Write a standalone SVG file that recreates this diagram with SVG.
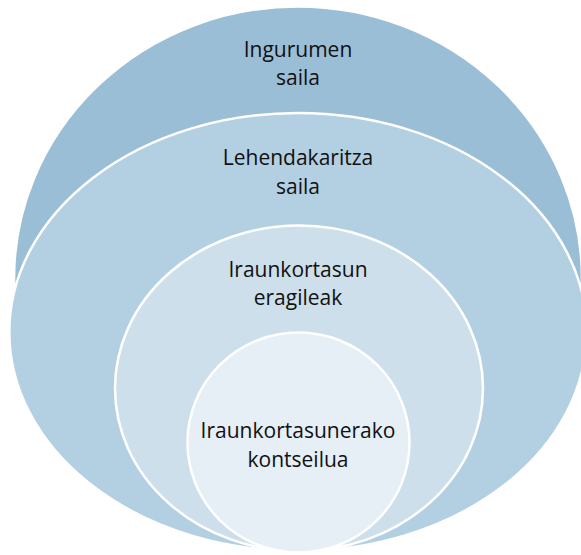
<svg xmlns="http://www.w3.org/2000/svg" width="581" height="555" viewBox="0 0 581 555">
<style>
.ring{stroke:#ffffff;stroke-width:2.5}
.lbl{font-family:"Open Sans","Noto Sans","Liberation Sans",sans-serif;font-size:21px;fill:#111111;text-anchor:middle}
</style>
<rect width="581" height="555" fill="#ffffff"/>
<g id="connectors"/>
<g id="node-ingurumen">
<ellipse class="ring" cx="298" cy="278.7" rx="284" ry="272.3" fill="#9bbed7"/>
<text class="lbl" x="298" y="57">Ingurumen</text>
<text class="lbl" x="298" y="85">saila</text>
</g>
<g id="node-lehendakaritza">
<ellipse class="ring" cx="298" cy="332" rx="288.7" ry="219" fill="#b3cfe2"/>
<text class="lbl" x="298" y="165">Lehendakaritza</text>
<text class="lbl" x="298" y="193.5">saila</text>
</g>
<g id="node-eragileak">
<ellipse class="ring" cx="299" cy="388.3" rx="184" ry="162.7" fill="#cddfeb"/>
<text class="lbl" x="298" y="277">Iraunkortasun</text>
<text class="lbl" x="298" y="305">eragileak</text>
</g>
<g id="node-kontseilua">
<ellipse class="ring" cx="298.5" cy="442.5" rx="111" ry="110" fill="#e6eef6"/>
<text class="lbl" x="298" y="438">Iraunkortasunerako</text>
<text class="lbl" x="298" y="467">kontseilua</text>
</g>
</svg>
